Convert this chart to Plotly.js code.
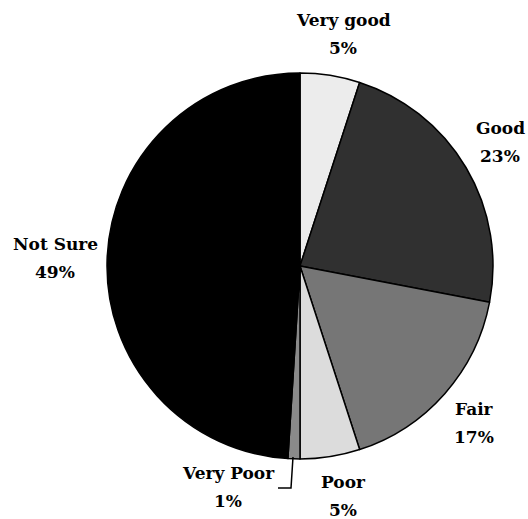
<!DOCTYPE html>
<html>
<head>
<meta charset="utf-8">
<script src="https://cdn.plot.ly/plotly-3.0.1.min.js"></script>
<style>
  html, body { margin: 0; padding: 0; background: #fff; }
  #chart { width: 528px; height: 519px; }
</style>
</head>
<body>
<div id="chart"></div>
<script>
// Survey answers, clockwise from 12 o'clock
const categories = ['Very good', 'Good', 'Fair', 'Poor', 'Very Poor', 'Not Sure'];
const shares = [5, 23, 17, 5, 1, 49];
const sliceColors = ['#ececec', '#303030', '#767676', '#dcdcdc', '#8a8a8a', '#000000'];

// Label anchor points (pixels from top-left of the page, centre of the name line)
const labelX = [343, 500, 474, 343, 228, 55];
const labelY = [20, 128, 409, 482, 473, 244];
const lineGap = 28;

const W = 528, H = 519;
const serif = 'DejaVu Serif';
const labelFont = { family: serif, size: 17, color: '#000' };

const annotations = [];
categories.forEach((cat, i) => {
    [cat, shares[i] + '%'].forEach((txt, k) => {
        annotations.push({
            text: '<b>' + txt + '</b>',
            x: labelX[i] / W,
            y: 1 - (labelY[i] + k * lineGap) / H,
            xref: 'paper', yref: 'paper',
            xanchor: 'center', yanchor: 'middle',
            showarrow: false,
            font: labelFont
        });
    });
});

const trace = {
    type: 'pie',
    labels: categories,
    values: shares,
    sort: false,
    direction: 'clockwise',
    rotation: 0,
    textinfo: 'none',
    hoverinfo: 'label+percent',
    marker: { colors: sliceColors, line: { color: '#000', width: 1.5 } },
    domain: { x: [107 / W, 493 / W], y: [1 - 459 / H, 1 - 73 / H] },
    showlegend: false
};

const layout = {
    width: W,
    height: H,
    margin: { l: 0, r: 0, t: 0, b: 0 },
    font: { family: serif },
    paper_bgcolor: '#fff',
    plot_bgcolor: '#fff',
    showlegend: false,
    annotations: annotations,
    shapes: [{
        // leader line for "Very Poor"
        type: 'path',
        xref: 'paper', yref: 'paper',
        path: 'M ' + (293 / W) + ',' + (1 - 457 / H) + ' L ' + (291 / W) + ',' + (1 - 488 / H) + ' L ' + (278 / W) + ',' + (1 - 488 / H),
        line: { color: '#000', width: 1.5 }
    }]
};

Plotly.newPlot('chart', [trace], layout, { displayModeBar: false, staticPlot: true });
</script>
</body>
</html>
